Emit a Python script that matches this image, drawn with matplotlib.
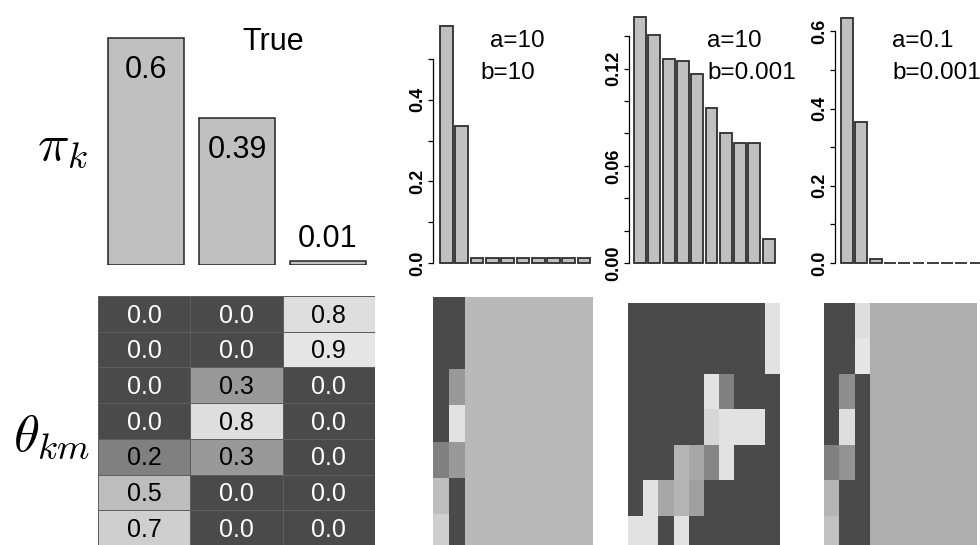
import numpy as np
import matplotlib.pyplot as plt
from matplotlib.colors import LinearSegmentedColormap

plt.rcParams['font.family'] = ['Liberation Sans', 'DejaVu Sans']
plt.rcParams['mathtext.fontset'] = 'cm'

# true mixture weights and theta table
true_pi = [0.6, 0.39, 0.01]
true_theta = [[0.0, 0.0, 0.8],
              [0.0, 0.0, 0.9],
              [0.0, 0.3, 0.0],
              [0.0, 0.8, 0.0],
              [0.2, 0.3, 0.0],
              [0.5, 0.0, 0.0],
              [0.7, 0.0, 0.0]]

# estimated weights for the three prior settings
prior_a = ['a=10', 'a=10', 'a=0.1']
prior_b = ['b=10', 'b=0.001', 'b=0.001']
pi_a = [0.58, 0.336, 0.012, 0.012, 0.012, 0.012, 0.012, 0.012, 0.012, 0.012]
pi_b = [0.152, 0.141, 0.126, 0.125, 0.117, 0.096, 0.080, 0.074, 0.074, 0.015]
pi_c = [0.635, 0.364, 0.01, 0, 0, 0, 0, 0, 0, 0]

# estimated theta (7 rows x 10 clusters)
theta_a = [[0.0, 0.0] + [0.48] * 8,
           [0.0, 0.0] + [0.48] * 8,
           [0.0, 0.3] + [0.48] * 8,
           [0.0, 0.85] + [0.48] * 8,
           [0.2, 0.3] + [0.48] * 8,
           [0.5, 0.0] + [0.48] * 8,
           [0.7, 0.0] + [0.48] * 8]
theta_b = [[0, 0, 0, 0, 0, 0, 0, 0, 0, 0.85],
           [0, 0, 0, 0, 0, 0, 0, 0, 0, 0.85],
           [0, 0, 0, 0, 0, 0.85, 0.2, 0, 0, 0],
           [0, 0, 0, 0, 0, 0.75, 0.85, 0.85, 0.85, 0],
           [0, 0, 0, 0.45, 0.38, 0.22, 0.85, 0, 0, 0],
           [0, 0.85, 0.38, 0.45, 0.34, 0, 0, 0, 0, 0],
           [0.85, 0.85, 0, 0.85, 0, 0, 0, 0, 0, 0]]
theta_c = [[0.0, 0.0, 0.8] + [0.42] * 7,
           [0.0, 0.0, 0.9] + [0.42] * 7,
           [0.0, 0.25, 0.0] + [0.42] * 7,
           [0.0, 0.8, 0.0] + [0.42] * 7,
           [0.2, 0.28, 0.0] + [0.42] * 7,
           [0.45, 0.0, 0.0] + [0.42] * 7,
           [0.55, 0.0, 0.0] + [0.42] * 7]

W, H = 980, 545
cmap = LinearSegmentedColormap.from_list('grays', [
    (0.0, (0.29,) * 3), (0.2, (0.5,) * 3), (0.3, (0.6,) * 3),
    (0.5, (0.74,) * 3), (0.7, (0.81,) * 3), (0.8, (0.87,) * 3),
    (1.0, (0.93,) * 3)])


def px_axes(fig, l, t, r, b):
    # axes placed by pixel box (left, top, right, bottom)
    return fig.add_axes([l / W, 1 - b / H, (r - l) / W, (b - t) / H])


def small_bars(fig, vals, spine, bar_left, pitch, px_unit, ymax, step, lstep, fmt, right):
    baseline = 263
    ax = px_axes(fig, spine, 0, right, baseline)
    unit = pitch / 1.2
    x0 = 0.2 - (bar_left - spine) / unit
    ax.set_xlim(x0, x0 + (right - spine) / unit)
    ax.set_ylim(0, baseline / px_unit)
    x = 0.7 + 1.2 * np.arange(len(vals))
    ax.bar(x, vals, width=1, color='#c0c0c0', edgecolor='#2e2e2e', lw=1.3, clip_on=False)
    for s in ['top', 'right', 'bottom']:
        ax.spines[s].set_visible(False)
    ax.spines['left'].set_bounds(0, ymax)
    ax.spines['left'].set_linewidth(0.9)
    ticks = np.arange(0, ymax + 1e-9, step)
    labels = [fmt % t if abs(t / lstep - round(t / lstep)) < 1e-6 else '' for t in ticks]
    ax.set_yticks(ticks, labels)
    ax.set_xticks([])
    ax.tick_params(axis='y', direction='out', length=3.5, width=0.9, pad=1.5,
                   labelsize=13, labelrotation=90)
    for lab in ax.get_yticklabels():
        lab.set_va('center')
        lab.set_fontweight('bold')
    ax.patch.set_visible(False)
    return ax


def small_map(fig, vals, l, t, r, b):
    ax = px_axes(fig, l, t, r, b)
    ax.pcolormesh(np.array(vals), cmap=cmap, vmin=0, vmax=1)
    ax.set_ylim(len(vals), 0)
    ax.axis('off')
    return ax


fig = plt.figure(figsize=(9.8, 5.45), dpi=100)

# true pi bars
ax = px_axes(fig, 100.5, 19, 373.5, 265)
ax.bar(range(3), true_pi, width=0.83, color='#c0c0c0', edgecolor='#222222', lw=1.1)
ax.set_xlim(-0.5, 2.5)
ax.set_ylim(0, 246 / 378)
ax.axis('off')
for i, v in enumerate(true_pi):
    if v > 0.1:
        ax.text(i, v - 0.045, str(v), ha='center', va='top', fontsize=22)
    else:
        ax.text(i, v + 0.02, str(v), ha='center', va='bottom', fontsize=22)
fig.text(273 / W, 1 - 42 / H, 'True', ha='center', va='center', fontsize=22)

fig.text(62 / W, 1 - 146 / H, r'$\pi_k$', ha='center', va='center', fontsize=38)
fig.text(52 / W, 1 - 437 / H, r'$\theta_{km}$', ha='center', va='center', fontsize=38)

# true theta table
ax = px_axes(fig, 98, 296, 375, 546)
th = np.array(true_theta)
ax.pcolormesh(th, cmap=cmap, vmin=0, vmax=1, edgecolors='#5e5e5e', lw=0.6)
ax.set_ylim(th.shape[0], 0)
ax.axis('off')
for i in range(th.shape[0]):
    for j in range(th.shape[1]):
        v = th[i, j]
        ax.text(j + 0.5, i + 0.55, f'{v:.1f}', ha='center', va='center', fontsize=18,
                color='white' if v < 0.1 else 'black')

# estimated pi for each prior
small_bars(fig, pi_a, 433, 440, 15.3, 408, 0.5, 0.1, 0.2, '%.1f', 600)
small_bars(fig, pi_b, 629, 634, 14.3, 1619, 0.14, 0.02, 0.06, '%.2f', 800)
small_bars(fig, pi_c, 835, 841, 14.3, 386, 0.6, 0.1, 0.2, '%.1f', 1000)

for xa, xb, ta, tb in zip([490, 707, 892], [480, 707, 892], prior_a, prior_b):
    fig.text(xa / W, 1 - 41 / H, ta, ha='left', va='center', fontsize=17.5)
    fig.text(xb / W, 1 - 73 / H, tb, ha='left', va='center', fontsize=17.5)

# estimated theta maps
small_map(fig, theta_a, 433, 297, 593, 550)
small_map(fig, theta_b, 628, 303, 780, 551)
small_map(fig, theta_c, 824, 303, 977, 551)

fig.savefig('out.png', dpi=100)
